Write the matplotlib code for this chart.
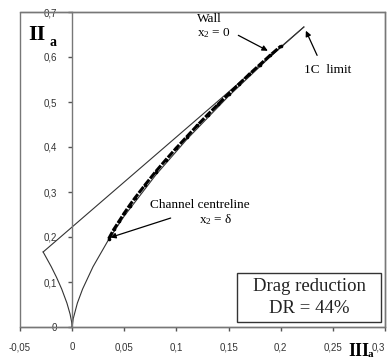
import numpy as np
import matplotlib
matplotlib.use('Agg')
import matplotlib.pyplot as plt
from matplotlib.patches import Rectangle

plt.rcParams['mathtext.fontset'] = 'custom'
plt.rcParams['mathtext.rm'] = 'Liberation Serif'
plt.rcParams['mathtext.it'] = 'Liberation Serif'

# Lumley triangle boundaries (III_a, II_a)
axi_pos_iii = [0.0, 0.001, 0.005, 0.01, 0.02, 0.035, 0.05, 0.08, 0.11, 0.15, 0.19, 0.2222]
axi_pos_ii = [0.0, 0.0182, 0.0531, 0.0843, 0.1339, 0.1944, 0.2466, 0.3373, 0.4171, 0.5130, 0.6006, 0.6667]
axi_neg_iii = [0.0, -0.0005, -0.002, -0.005, -0.01, -0.015, -0.02, -0.0278]
axi_neg_ii = [0.0, 0.0115, 0.0289, 0.0531, 0.0843, 0.1105, 0.1339, 0.1667]
twoc_iii = [-0.0278, 0.2222]
twoc_ii = [0.1667, 0.6667]

# measured anisotropy invariants across the channel (centreline -> wall)
data_iii = [0.035, 0.04, 0.045, 0.05, 0.055, 0.06, 0.07, 0.08, 0.09, 0.10,
            0.11, 0.12, 0.13, 0.14, 0.15, 0.16, 0.17, 0.18, 0.19, 0.20]
data_ii = [0.196, 0.217, 0.235, 0.253, 0.270, 0.286, 0.316, 0.345, 0.372, 0.398,
           0.423, 0.448, 0.472, 0.495, 0.518, 0.540, 0.562, 0.583, 0.604, 0.624]

xticks = [-0.05, 0, 0.05, 0.1, 0.15, 0.2, 0.25, 0.3]
xticklabels = ['-0,05', '0', '0,05', '0,1', '0,15', '0,2', '0,25', '0,3']
yticks = [0, 0.1, 0.2, 0.3, 0.4, 0.5, 0.6, 0.7]
yticklabels = ['0', '0,1', '0,2', '0,3', '0,4', '0,5', '0,6', '0,7']

W, H = 388, 359
fig = plt.figure(figsize=(W / 100, H / 100), dpi=100)
ax = fig.add_axes([20 / W, (H - 327) / H, 365 / W, 315 / H])
ax.set_xlim(-0.05, 0.3)
ax.set_ylim(0, 0.7)

gray = '#777777'
for s in ['top', 'right', 'bottom']:
    ax.spines[s].set_color(gray)
    ax.spines[s].set_linewidth(1.0)
ax.spines['left'].set_position(('data', 0))
ax.spines['left'].set_color(gray)
ax.spines['left'].set_linewidth(1.0)
ax.add_patch(Rectangle((0, 0), 1, 1, transform=ax.transAxes, fill=False,
                       edgecolor=gray, lw=1.0, clip_on=False, zorder=0))

ax.set_xticks(xticks)
ax.set_xticklabels(xticklabels)
ax.set_yticks(yticks)
ax.set_yticklabels(yticklabels)
ax.tick_params(direction='out', length=3, width=1, color='#555555',
               labelsize=7, labelcolor='#333333')
ax.tick_params(axis='x', pad=8)
ax.tick_params(axis='y', pad=8)
for lab in ax.get_xticklabels() + ax.get_yticklabels():
    lab.set_family('Liberation Sans')
ax.get_xticklabels()[-1].set_horizontalalignment('right')

lc = '#333333'
ax.plot(axi_pos_iii, axi_pos_ii, color=lc, lw=0.8)
ax.plot(axi_neg_iii, axi_neg_ii, color=lc, lw=0.8)
ax.plot(twoc_iii, twoc_ii, color=lc, lw=0.8)
ax.plot(data_iii, data_ii, color='black', lw=2.2, ls=(0, (2.5, 0.5)),
        marker='o', ms=1.6)

serif = 'Liberation Serif'
arrow = dict(arrowstyle='-|>', color='black', lw=0.9, mutation_scale=8)
ax.text(0.120, 0.677, 'Wall', family=serif, fontsize=9.5)
ax.text(0.120, 0.647, 'x$_2$ = 0', family=serif, fontsize=9.5)
ax.annotate('', xy=(0.190, 0.611), xytext=(0.157, 0.651), arrowprops=arrow)

ax.text(0.245, 0.571, '1C  limit', family=serif, fontsize=9.5, ha='center', va='center')
ax.annotate('', xy=(0.223, 0.664), xytext=(0.236, 0.598), arrowprops=arrow)

ax.text(0.122, 0.271, 'Channel centreline', family=serif, fontsize=9.5,
        ha='center', va='center')
ax.text(0.138, 0.238, 'x$_2$ = δ', family=serif, fontsize=9.5,
        ha='center', va='center')
ax.annotate('', xy=(0.034, 0.197), xytext=(0.097, 0.244), arrowprops=arrow)

ax.add_patch(Rectangle((0.595, 0.016), 0.394, 0.155, transform=ax.transAxes,
                       fill=False, edgecolor='#333333', lw=1.0))
ax.text(0.792, 0.128, 'Drag reduction', transform=ax.transAxes, family=serif,
        fontsize=13.5, ha='center', va='center', color='#222222')
ax.text(0.792, 0.058, 'DR = 44%', transform=ax.transAxes, family=serif,
        fontsize=13.5, ha='center', va='center', color='#222222')

# axis labels
fig.text(28 / W, 1 - 40 / H, 'II', family=serif, fontweight='bold', fontsize=16)
fig.text(49 / W, 1 - 46 / H, 'a', family=serif, fontweight='bold', fontsize=10)
fig.text(348 / W, 1 - 343 / H, 'III', family=serif, fontweight='bold',
         fontsize=13, va='top')
fig.text(368 / W, 1 - 350 / H, 'a', family=serif, fontweight='bold',
         fontsize=8, va='top')

fig.savefig('out.png', dpi=100)
